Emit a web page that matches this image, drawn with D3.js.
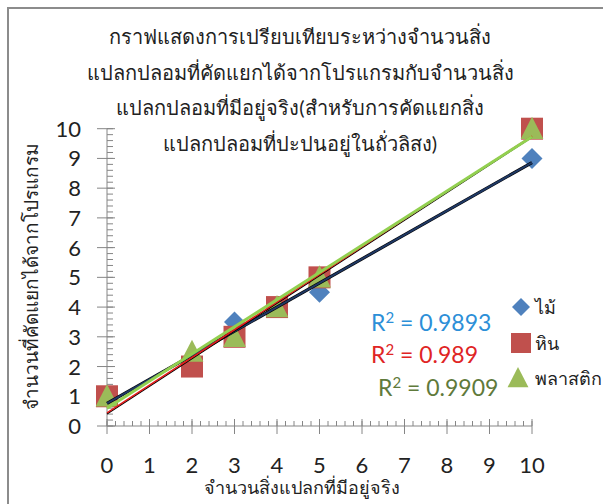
<!DOCTYPE html>
<html>
<head>
<meta charset="utf-8">
<script src="https://cdn.jsdelivr.net/npm/d3@7"></script>
<style>
  body { margin: 0; background: #fff; }
  svg text { font-family: Lato, "Noto Sans", "Open Sans", sans-serif; }
</style>
</head>
<body>
<div id="viz"></div>
<script>
const actual = [0, 2, 3, 4, 5, 10];
const wood = [1, 2, 3.5, 4, 4.5, 9];
const rock = [1, 2, 3, 4, 5, 10];
const plastic = [1, 2.5, 3, 4, 5, 10];
const seriesNames = ["ไม้", "หิน", "พลาสติก"];
const r2Labels = ["0.9893", "0.989", "0.9909"];
const xTicks = [0, 1, 2, 3, 4, 5, 6, 7, 8, 9, 10];
const yTicks = [0, 1, 2, 3, 4, 5, 6, 7, 8, 9, 10];

const titleLines = [
    "กราฟแสดงการเปรียบเทียบระหว่างจำนวนสิ่ง",
    "แปลกปลอมที่คัดแยกได้จากโปรแกรมกับจำนวนสิ่ง",
    "แปลกปลอมที่มีอยู่จริง(สำหรับการคัดแยกสิ่ง",
    "แปลกปลอมที่ปะปนอยู่ในถั่วลิสง)"
];

const width = 603, height = 504;

const svg = d3.select("#viz").append("svg")
    .attr("width", width)
    .attr("height", height);

// chart border
svg.append("rect")
    .attr("x", 8).attr("y", 8)
    .attr("width", 620).attr("height", 520)
    .attr("fill", "none")
    .attr("stroke", "#8c8c8c")
    .attr("stroke-width", 2);

const xScale = d3.scaleLinear().domain([0, 10]).range([107, 532]);
const yScale = d3.scaleLinear().domain([0, 10]).range([426, 128.7]);

// title
svg.append("g").selectAll("text")
    .data(titleLines)
    .join("text")
        .attr("x", 300)
        .attr("y", (d, i) => 44 + i * 35.5)
        .attr("text-anchor", "middle")
        .attr("fill", "#222")
        .style("font-size", "20px")
        .text(d => d);

// axes
const axisColor = "#868686";
const xMinor = d3.range(0, 10.001, 0.2);
const yMinor = d3.range(0, 10.001, 0.2);

const gx = svg.append("g");
gx.append("line")
    .attr("x1", xScale(0)).attr("x2", xScale(10))
    .attr("y1", yScale(0)).attr("y2", yScale(0))
    .attr("stroke", axisColor);
gx.selectAll(".minor").data(xMinor).join("line")
    .attr("class", "minor")
    .attr("x1", d => xScale(d)).attr("x2", d => xScale(d))
    .attr("y1", yScale(0)).attr("y2", yScale(0) - 5)
    .attr("stroke", axisColor);
gx.selectAll(".major").data(xTicks).join("line")
    .attr("class", "major")
    .attr("x1", d => xScale(d)).attr("x2", d => xScale(d))
    .attr("y1", yScale(0) - 7).attr("y2", yScale(0) + 8)
    .attr("stroke", axisColor);
gx.selectAll("text").data(xTicks).join("text")
    .attr("x", d => xScale(d))
    .attr("y", 473)
    .attr("text-anchor", "middle")
    .attr("fill", "#222")
    .style("font-size", "22px")
    .text(d => d);

const gy = svg.append("g");
gy.append("line")
    .attr("x1", xScale(0)).attr("x2", xScale(0))
    .attr("y1", yScale(0)).attr("y2", yScale(10))
    .attr("stroke", axisColor);
gy.selectAll(".minor").data(yMinor).join("line")
    .attr("class", "minor")
    .attr("x1", xScale(0)).attr("x2", xScale(0) + 6)
    .attr("y1", d => yScale(d)).attr("y2", d => yScale(d))
    .attr("stroke", axisColor);
gy.selectAll(".major").data(yTicks).join("line")
    .attr("class", "major")
    .attr("x1", xScale(0) - 10).attr("x2", xScale(0) + 8)
    .attr("y1", d => yScale(d)).attr("y2", d => yScale(d))
    .attr("stroke", axisColor);
gy.selectAll("text").data(yTicks).join("text")
    .attr("x", 81)
    .attr("y", d => yScale(d) + 8)
    .attr("text-anchor", "end")
    .attr("fill", "#222")
    .style("font-size", "22px")
    .text(d => d);

// axis titles
svg.append("text")
    .attr("x", 302).attr("y", 494)
    .attr("text-anchor", "middle")
    .attr("fill", "#222")
    .style("font-size", "18px")
    .text("จำนวนสิ่งแปลกที่มีอยู่จริง");

svg.append("text")
    .attr("transform", "translate(38,276) rotate(-90)")
    .attr("text-anchor", "middle")
    .attr("fill", "#222")
    .style("font-size", "19px")
    .text("จำนวนที่คัดแยกได้จากโปรแกรม");

// marker shapes
const diamond = (s) => `M0,${-s}L${s},0L0,${s}L${-s},0Z`;
const square = (s) => `M${-s},${-s}H${s}V${s}H${-s}Z`;
const triangle = (s) => `M0,${-s}L${s * 0.95},${s * 0.85}H${-s * 0.95}Z`;

const series = [
    { name: seriesNames[0], values: wood, color: "#4f81bd", shape: diamond, size: 10.5, r2: r2Labels[0], r2color: "#2c8fd8" },
    { name: seriesNames[1], values: rock, color: "#c0504d", shape: square, size: 11, r2: r2Labels[1], r2color: "#e02424" },
    { name: seriesNames[2], values: plastic, color: "#9bbb59", shape: triangle, size: 12, r2: r2Labels[2], r2color: "#5f7a3b" }
];

series.forEach(s => {
    svg.append("g").selectAll("path")
        .data(actual.map((x, i) => ({ x: x, y: s.values[i] })))
        .join("path")
            .attr("d", s.shape(s.size))
            .attr("transform", d => `translate(${xScale(d.x)},${yScale(d.y)})`)
            .attr("fill", s.color);
});

// linear trend lines
function fit(xs, ys) {
    const mx = d3.mean(xs), my = d3.mean(ys);
    const sxy = d3.sum(xs, (x, i) => (x - mx) * (ys[i] - my));
    const sxx = d3.sum(xs, x => (x - mx) ** 2);
    const slope = sxy / sxx;
    return [slope, my - slope * mx];
}

function trend(values, color, w, shadow, dy) {
    const [m, b] = fit(actual, values);
    const pts = [0, 10].map(x => [xScale(x), yScale(m * x + b)]);
    if (shadow) {
        svg.append("line")
            .attr("x1", pts[0][0]).attr("y1", pts[0][1] + dy)
            .attr("x2", pts[1][0]).attr("y2", pts[1][1] + dy)
            .attr("stroke", "#000").attr("stroke-width", shadow);
    }
    svg.append("line")
        .attr("x1", pts[0][0]).attr("y1", pts[0][1])
        .attr("x2", pts[1][0]).attr("y2", pts[1][1])
        .attr("stroke", color).attr("stroke-width", w);
}

trend(wood, "#1f3864", 2, 3.2, 0);
trend(rock, "#e31a1a", 1.6, 1.2, 1.2);
trend(plastic, "#92d050", 3, 0, 0);

// R² labels
const r2Pos = [[371, 331], [371, 363], [378, 396]];
series.forEach((s, i) => {
    const t = svg.append("text")
        .attr("x", r2Pos[i][0]).attr("y", r2Pos[i][1])
        .attr("fill", s.r2color)
        .style("font-size", "23px");
    t.append("tspan").text("R");
    t.append("tspan").attr("dy", -8).style("font-size", "15px").text("2");
    t.append("tspan").attr("dy", 8).text(" = " + s.r2);
});

// legend
const legendY = [307, 343, 378];
const legendSize = [9, 10, 11];
series.forEach((s, i) => {
    svg.append("path")
        .attr("d", s.shape(legendSize[i]))
        .attr("transform", `translate(${i === 2 ? 518 : 521},${legendY[i]})`)
        .attr("fill", s.color);
    svg.append("text")
        .attr("x", 535).attr("y", legendY[i] + 7)
        .attr("fill", "#222")
        .style("font-size", "18px")
        .text(s.name);
});
</script>
</body>
</html>
